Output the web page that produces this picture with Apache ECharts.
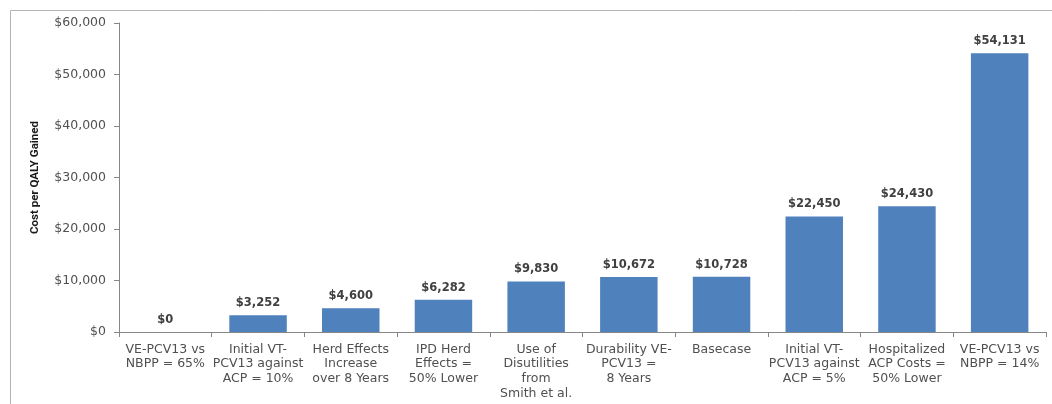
<!DOCTYPE html>
<html><head><meta charset="utf-8">
<script src="https://cdn.jsdelivr.net/npm/echarts@6/dist/echarts.min.js"></script>
<style>html,body{margin:0;padding:0;background:#fff}#c{width:1052px;height:404px}</style>
</head><body><div id="c"></div>
<script>
const categories = [
  "VE-PCV13 vs\nNBPP = 65%",
  "Initial VT-\nPCV13 against\nACP = 10%",
  "Herd Effects\nIncrease\nover 8 Years",
  "IPD Herd\nEffects =\n50% Lower",
  "Use of\nDisutilities\nfrom\nSmith et al.",
  "Durability VE-\nPCV13 =\n8 Years",
  "Basecase",
  "Initial VT-\nPCV13 against\nACP = 5%",
  "Hospitalized\nACP Costs =\n50% Lower",
  "VE-PCV13 vs\nNBPP = 14%"
];
const costPerQaly = [0, 3252, 4600, 6282, 9830, 10672, 10728, 22450, 24430, 54131];
const yTicks = { min: 0, max: 60000, interval: 10000 };
const yTitle = "Cost per QALY Gained";

const fmt = v => '$' + Number(v).toLocaleString('en-US');
const chart = echarts.init(document.getElementById('c'));
chart.setOption({
  animation: false,
  graphic: [{
    type: 'rect', silent: true, z: -1,
    shape: { x: 10.5, y: 10.5, width: 1200, height: 600 },
    style: { fill: 'none', stroke: '#b4b4b4', lineWidth: 1 }
  }],
  grid: { left: 119, right: 6, top: 23, bottom: 72 },
  xAxis: {
    type: 'category', data: categories,
    axisLine: { lineStyle: { color: '#868686' } },
    axisTick: { show: true, length: 5, lineStyle: { color: '#868686' } },
    axisLabel: { interval: 0, margin: 10, color: '#505050', fontFamily: 'DejaVu Sans', fontSize: 12.5, lineHeight: 14.7 }
  },
  yAxis: {
    type: 'value', min: yTicks.min, max: yTicks.max, interval: yTicks.interval,
    name: yTitle, nameLocation: 'middle', nameGap: 78,
    nameTextStyle: { fontFamily: 'Roboto', fontWeight: 'bold', fontSize: 11.5, color: '#1a1a1a' },
    splitLine: { show: false },
    axisLine: { show: true, lineStyle: { color: '#868686' } },
    axisTick: { show: true, length: 5, lineStyle: { color: '#868686' } },
    axisLabel: { margin: 13, color: '#505050', fontFamily: 'DejaVu Sans', fontSize: 12.5, formatter: fmt }
  },
  series: [{
    type: 'bar', data: costPerQaly, barWidth: '62%',
    itemStyle: { color: '#4F81BD' },
    label: { show: true, position: 'top', distance: 6, formatter: p => fmt(p.value), color: '#404040', fontFamily: 'DejaVu Sans', fontWeight: 'bold', fontSize: 11.5 }
  }]
});
</script></body></html>
